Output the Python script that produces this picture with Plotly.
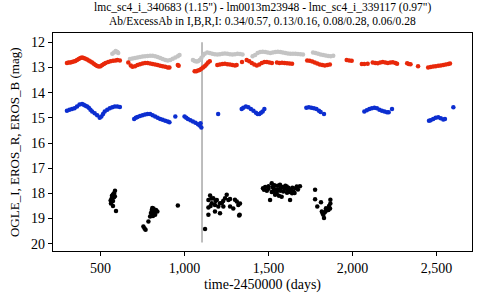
import plotly.graph_objects as go

# Gray series (upper light curve)
gray_t = [570, 580, 590, 600, 605,
          675, 690, 705, 720, 735, 750, 765, 780, 795, 810, 825, 840, 855, 870, 885, 900, 915, 930, 945, 960, 970,
          1050, 1060, 1070, 1080, 1090, 1100, 1110, 1120, 1135, 1150, 1165, 1180, 1195, 1210, 1225, 1240, 1255, 1270, 1285, 1300, 1315, 1330, 1345,
          1405, 1420, 1435, 1450, 1465, 1480, 1495, 1510, 1525, 1540, 1555, 1570, 1585, 1600, 1615, 1630, 1645, 1660, 1675, 1690, 1705,
          1765, 1780, 1795, 1810, 1825, 1840, 1855, 1870, 1885]
gray_mag = [12.45, 12.40, 12.35, 12.38, 12.42,
            12.66, 12.64, 12.62, 12.60, 12.58, 12.56, 12.55, 12.54, 12.53, 12.53, 12.55, 12.58, 12.62, 12.66, 12.70, 12.72, 12.70, 12.65, 12.60, 12.55, 12.50,
            12.70, 12.74, 12.76, 12.75, 12.70, 12.62, 12.52, 12.45, 12.40, 12.42, 12.45, 12.47, 12.48, 12.47, 12.45, 12.44, 12.45, 12.47, 12.48, 12.47, 12.45, 12.46, 12.48,
            12.55, 12.50, 12.42, 12.38, 12.37, 12.38, 12.40, 12.42, 12.40, 12.38, 12.37, 12.38, 12.40, 12.42, 12.44, 12.45, 12.45, 12.45, 12.46, 12.47, 12.48,
            12.40, 12.42, 12.45, 12.48, 12.50, 12.52, 12.54, 12.55, 12.53]

# Red series (EROS_R)
red_t = [300, 310, 320, 330, 340, 350, 360, 370, 380, 390, 400, 410, 420, 430, 440, 450, 460, 470, 480, 490, 500, 510, 520, 530, 545, 560, 575, 590, 600, 615,
         665, 680, 690, 705, 720, 735, 750, 765, 780, 795, 810, 825, 840, 855, 870, 885, 900, 910, 960, 965,
         1060, 1070, 1080, 1090, 1100, 1110, 1120, 1130, 1140, 1150,
         1195, 1210, 1225, 1240, 1255, 1270, 1285, 1300, 1310, 1342,
         1370, 1385, 1400, 1415, 1430, 1445, 1460, 1475, 1490, 1505, 1520,
         1550, 1565, 1580, 1595, 1610, 1625, 1640,
         1730, 1745, 1760, 1775, 1790, 1805, 1820, 1835, 1850, 1865,
         1965, 1980, 1995, 2055, 2070, 2090,
         2120, 2135, 2150, 2165, 2180, 2195, 2210, 2225, 2240, 2255, 2265,
         2325, 2335, 2345, 2390,
         2450, 2465, 2480, 2495, 2510, 2525, 2540, 2555, 2570, 2580]
red_mag = [12.82, 12.80, 12.80, 12.78, 12.76, 12.74, 12.70, 12.66, 12.62, 12.60, 12.62, 12.65, 12.68, 12.72, 12.76, 12.80, 12.85, 12.90, 12.94, 12.96, 12.95, 12.90, 12.86, 12.82, 12.78, 12.75, 12.73, 12.72, 12.70, 12.72,
           12.80, 12.92, 12.97, 12.95, 12.90, 12.87, 12.84, 12.82, 12.82, 12.84, 12.86, 12.88, 12.90, 12.93, 12.95, 12.97, 13.00, 13.00, 12.90, 12.93,
           13.15, 13.15, 13.12, 13.10, 13.05, 13.00, 12.95, 12.88, 12.80, 12.75,
           12.90, 12.88, 12.86, 12.85, 12.87, 12.88, 12.90, 12.92, 12.90, 12.78,
           12.70, 12.75, 12.82, 12.88, 12.92, 12.88, 12.82, 12.78, 12.78, 12.80, 12.82,
           12.80, 12.82, 12.81, 12.82, 12.83, 12.84, 12.85,
           12.72, 12.73, 12.76, 12.80, 12.84, 12.88, 12.90, 12.92, 12.90, 12.88,
           12.70, 12.72, 12.73, 12.86, 12.86, 12.85,
           12.80, 12.82, 12.83, 12.80, 12.78, 12.80, 12.82, 12.80, 12.79, 12.82, 12.85,
           12.83, 12.86, 12.87, 12.95,
           13.00, 12.98, 12.96, 12.95, 12.93, 12.92, 12.90, 12.88, 12.86, 12.84]

# Blue series (EROS_B)
blue_t = [300, 315, 330, 345, 360, 375, 390, 400, 410, 420, 430, 440, 450, 465, 480, 495, 505, 515, 525, 540, 555, 570, 585, 600, 615,
          700, 710, 720, 735, 750, 765, 780, 795, 810, 825, 840, 855, 870, 885, 900, 910, 945,
          1000, 1010, 1020, 1035, 1050, 1065, 1080, 1090, 1095, 1100, 1200,
          1340, 1350, 1365, 1380, 1395, 1410, 1425, 1435, 1445, 1455, 1465, 1475,
          1725, 1740, 1755, 1770, 1785, 1800, 1810, 1830,
          2070, 2085, 2100, 2115, 2130, 2145, 2160, 2175, 2190, 2205, 2215, 2235,
          2455, 2465, 2480, 2495, 2510, 2525, 2540, 2550, 2600]
blue_mag = [14.72, 14.68, 14.65, 14.62, 14.55, 14.47, 14.45, 14.48, 14.52, 14.55, 14.60, 14.68, 14.75, 14.82, 14.90, 15.00, 14.95, 14.85, 14.75, 14.68, 14.62, 14.58, 14.55, 14.55, 14.57,
            15.05, 15.00, 14.97, 14.93, 14.90, 14.87, 14.85, 14.85, 14.90, 14.95, 15.00, 15.05, 15.08, 15.12, 15.15, 15.18, 14.95,
            14.95, 15.00, 15.05, 15.10, 15.15, 15.20, 15.25, 15.30, 15.22, 15.38, 14.85,
            14.65, 14.60, 14.55, 14.58, 14.65, 14.72, 14.80, 14.85, 14.85, 14.80, 14.75, 14.65,
            14.60, 14.58, 14.60, 14.62, 14.65, 14.72, 14.77, 14.85,
            14.75, 14.70, 14.65, 14.62, 14.60, 14.62, 14.68, 14.72, 14.75, 14.78, 14.78, 14.65,
            15.12, 15.10, 15.05, 15.00, 14.98, 15.02, 15.07, 15.05, 14.58]

# Black series (OGLE_I)
black_t = [586, 574, 566, 580, 562, 574, 592, 574, 568, 580, 560, 585,
           755, 762, 768, 785, 795, 800, 805, 808, 815, 822, 830, 838, 825, 812, 818,
           960,
           1122, 1152, 1171, 1142, 1162, 1142, 1181, 1192, 1211, 1142, 1181, 1211, 1231, 1241, 1251, 1261, 1271, 1271, 1311, 1320, 1325, 1221, 1201, 1160, 1290, 1300, 1330, 1328, 1185, 1230, 1155,
           1467, 1473, 1480, 1490, 1500, 1509, 1519, 1519, 1525, 1529, 1535, 1539, 1545, 1549, 1555, 1558, 1562, 1568, 1572, 1578, 1583, 1588, 1595, 1600, 1608, 1613, 1618, 1622, 1628, 1635, 1642, 1648, 1655, 1662, 1668, 1675, 1687, 1500, 1530, 1570, 1610, 1640,
           1777, 1777, 1790, 1812, 1817, 1826, 1830, 1842, 1856, 1866, 1868, 1868, 1860, 1835, 1850, 1822, 1840]
black_mag = [17.90, 18.05, 18.20, 18.15, 18.40, 18.50, 18.70, 18.30, 18.10, 18.00, 18.28, 18.12,
             19.32, 19.40, 19.45, 19.12, 18.92, 18.78, 18.66, 18.58, 18.60, 18.70, 18.66, 18.72, 18.85, 18.90, 18.75,
             18.48,
             19.42, 18.09, 18.19, 18.26, 18.39, 18.56, 18.46, 18.26, 18.39, 18.85, 18.72, 18.79, 18.52, 18.19, 18.06, 18.26, 18.52, 18.22, 18.32, 18.46, 18.88, 18.39, 18.52, 18.20, 18.60, 18.25, 18.40, 18.85, 18.30, 18.30, 18.50,
             17.80, 17.86, 17.75, 17.90, 17.82, 18.26, 17.60, 17.95, 17.75, 17.93, 17.68, 18.06, 17.85, 17.99, 17.70, 17.86, 18.10, 17.66, 17.80, 18.13, 17.75, 17.93, 17.82, 17.70, 17.73, 17.88, 17.78, 17.95, 18.26, 17.85, 17.78, 17.93, 17.99, 17.80, 17.73, 17.85, 17.72, 17.72, 17.80, 17.90, 17.98, 18.00,
             17.86, 18.23, 18.52, 18.35, 18.72, 18.85, 18.98, 18.59, 18.66, 18.60, 18.40, 18.25, 18.50, 18.75, 18.65, 18.80, 18.70]

event_t = 1104
x_ticks = [500, 1000, 1500, 2000, 2500]
y_ticks = [12, 13, 14, 15, 16, 17, 18, 19, 20]

title_line1 = "lmc_sc4_i_340683 (1.15\") - lm0013m23948 - lmc_sc4_i_339117 (0.97\")"
title_line2 = "Ab/ExcessAb in I,B,R,I: 0.34/0.57, 0.13/0.16, 0.08/0.28, 0.06/0.28"
x_title = "time-2450000 (days)"
y_title = "OGLE_I, EROS_R, EROS_B (mag)"

FONT = "Liberation Serif, serif"

fig = go.Figure()
fig.add_trace(go.Scatter(x=gray_t, y=gray_mag, mode="markers",
                         marker=dict(color="#c4c4c4", size=4.5), showlegend=False))
fig.add_trace(go.Scatter(x=red_t, y=red_mag, mode="markers",
                         marker=dict(color="#e8280a", size=4.5), showlegend=False))
fig.add_trace(go.Scatter(x=blue_t, y=blue_mag, mode="markers",
                         marker=dict(color="#0c2ed0", size=4.5), showlegend=False))
fig.add_trace(go.Scatter(x=black_t, y=black_mag, mode="markers",
                         marker=dict(color="#000000", size=4.5), showlegend=False))

fig.add_shape(type="line", x0=event_t, x1=event_t, y0=12, y1=19.95,
              xref="x", yref="y", line=dict(color="#a8a8a8", width=1.5), layer="below")

annots = [
    dict(text=title_line1, x=0.5, y=1.1147, size=11.5, angle=0),
    dict(text=title_line2, x=0.5, y=1.0505, size=11.5, angle=0),
    dict(text=x_title, x=0.5, y=-0.156, size=14, angle=0),
    dict(text=y_title, x=-0.093, y=0.5, size=13, angle=-90),
]
for a in annots:
    fig.add_annotation(text=a["text"], x=a["x"], y=a["y"], xref="paper", yref="paper",
                       xanchor="center", yanchor="middle", showarrow=False, textangle=a["angle"],
                       font=dict(size=a["size"], family=FONT, color="black"))

fig.update_layout(
    width=480, height=300,
    margin=dict(l=53, r=8, t=33, b=49),
    paper_bgcolor="white", plot_bgcolor="white",
    font=dict(family=FONT, color="black", size=14),
    hovermode=False,
)
fig.update_xaxes(range=[217, 2711], tickvals=x_ticks, tickformat=",d",
                 showgrid=False, zeroline=False, showline=True, linecolor="black", linewidth=1.2,
                 mirror=True, ticks="outside", ticklen=4, tickcolor="black",
                 tickfont=dict(size=14, family=FONT, color="black"))
fig.update_yaxes(range=[20.29, 11.63], tickvals=y_ticks,
                 showgrid=False, zeroline=False, showline=True, linecolor="black", linewidth=1.2,
                 mirror=True, ticks="outside", ticklen=4, tickcolor="black",
                 tickfont=dict(size=14, family=FONT, color="black"))

fig.write_html("out.html", config={"displayModeBar": False},
               post_script="document.body.style.margin='0';document.body.style.overflow='hidden';")
